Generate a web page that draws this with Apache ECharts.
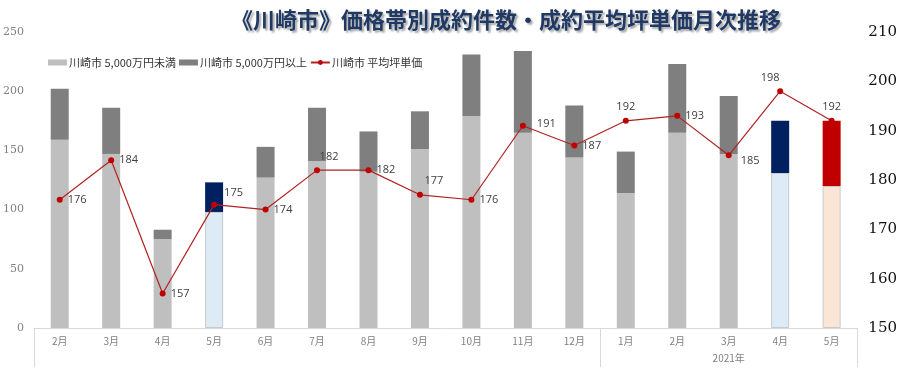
<!DOCTYPE html>
<html><head><meta charset="utf-8">
<script src="https://cdn.jsdelivr.net/npm/echarts@6/dist/echarts.min.js"></script>
<style>html,body{margin:0;padding:0;background:#fff}#c{width:900px;height:371px}</style>
</head><body><div id="c"></div>
<script>
const months = ['2月','3月','4月','5月','6月','7月','8月','9月','10月','11月','12月','1月','2月','3月','4月','5月'];
const yearLabels = ['','','','','','','','','','','','','','2021年','',''];
const under5000 = [159,147,75,98,127,141,132,151,179,165,144,114,165,147,131,120];
const over5000 = [43,39,8,25,26,45,34,32,52,69,44,35,58,49,44,55];
const avgTsubo = [176,184,157,175,174,182,182,177,176,191,187,192,193,185,198,192];
const leftTicks = [0,250,50];
const rightTicks = [150,210,10];
const groupBounds = [0,11,16];

const lightColors = {3:'#DDEBF7',14:'#DDEBF7',15:'#FBE5D6'};
const darkColors = {3:'#002060',14:'#002060',15:'#C00000'};
const labelPos = ['right','right','right','insideBottomLeft','right','top','right','top','right','right','right','top','right','right','top','top'];
const labelOff = {3:[8,-4],5:[12,0],7:[14,0],9:[6,-2],13:[4,6],14:[-10,0]};

const chart = echarts.init(document.getElementById('c'));
chart.setOption({
  animation:false,
  title:{text:'《川崎市》価格帯別成約件数・成約平均坪単価月次推移',left:226,top:4,
    textStyle:{fontFamily:'Noto Sans CJK JP',fontSize:22,fontWeight:'bold',color:'#1F3864',
      textShadowColor:'rgba(0,0,0,0.35)',textShadowBlur:2,textShadowOffsetX:2,textShadowOffsetY:2}},
  legend:{left:43,top:52,itemGap:3,itemWidth:19,itemHeight:6,
    textStyle:{fontFamily:'Noto Sans CJK JP',fontSize:11,color:'#333',padding:[0,0,0,-3]},
    data:[{name:'川崎市 5,000万円未満',icon:'rect'},{name:'川崎市 5,000万円以上',icon:'rect'},{name:'川崎市 平均坪単価'}]},
  grid:{left:32,right:39,top:32,bottom:43},
  xAxis:[
    {type:'category',data:months,axisLine:{lineStyle:{color:'#D9D9D9'}},axisTick:{show:false},
     axisLabel:{interval:0,color:'#808080',fontSize:10,fontFamily:'Noto Sans CJK JP',margin:8}},
    {type:'category',data:yearLabels,position:'bottom',axisLine:{show:false},axisTick:{show:false},
     axisLabel:{interval:0,color:'#808080',fontSize:10,fontFamily:'Noto Sans CJK JP',margin:25}},
    {type:'value',min:0,max:months.length,position:'bottom',axisLine:{show:false},splitLine:{show:false},
     axisLabel:{show:false},
     axisTick:{show:true,length:39,customValues:groupBounds,lineStyle:{color:'#D9D9D9'}}}
  ],
  yAxis:[
    {type:'value',min:leftTicks[0],max:leftTicks[1],interval:leftTicks[2],splitLine:{show:false},
     axisLine:{show:false},axisTick:{show:false},
     axisLabel:{color:'#808080',fontSize:11,fontFamily:'DejaVu Serif',margin:10}},
    {type:'value',min:rightTicks[0],max:rightTicks[1],interval:rightTicks[2],splitLine:{show:false},
     axisLine:{show:false},axisTick:{show:false},
     axisLabel:{color:'#111',fontSize:15,fontFamily:'DejaVu Serif',margin:11}}
  ],
  series:[
    {name:'川崎市 5,000万円未満',type:'bar',stack:'a',barWidth:18,itemStyle:{color:'#BFBFBF'},
     data:under5000.map((v,i)=>lightColors[i]?{value:v,itemStyle:{color:lightColors[i],borderColor:'#C9C9C9',borderWidth:1}}:v)},
    {name:'川崎市 5,000万円以上',type:'bar',stack:'a',barWidth:18,itemStyle:{color:'#7F7F7F'},
     data:over5000.map((v,i)=>darkColors[i]?{value:v,itemStyle:{color:darkColors[i]}}:v)},
    {name:'川崎市 平均坪単価',type:'line',yAxisIndex:1,symbol:'circle',symbolSize:6,z:5,
     lineStyle:{color:'#B22222',width:1.2},itemStyle:{color:'#C00000'},
     label:{show:true,color:'#404040',fontSize:11,fontFamily:'Open Sans'},
     data:avgTsubo.map((v,i)=>({value:v,label:{position:labelPos[i],offset:labelOff[i]||[0,0]}}))}
  ]
});
</script></body></html>
